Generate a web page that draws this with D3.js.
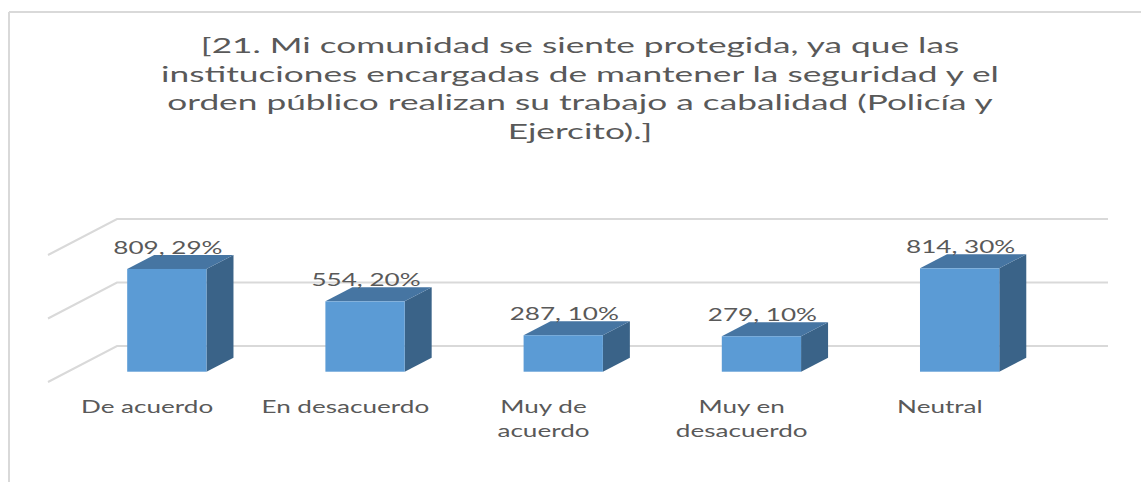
<!DOCTYPE html>
<html>
<head>
<meta charset="utf-8">
<script src="https://cdn.jsdelivr.net/npm/d3@7"></script>
<style>
  html, body { margin: 0; padding: 0; background: #fff; }
  svg { display: block; }
  text { font-family: Lato, "Open Sans", sans-serif; fill: #595959; }
</style>
</head>
<body>
<svg id="chart" width="1141" height="482"></svg>
<script>
// Survey answers and counts
const categories = ["De acuerdo", "En desacuerdo", "Muy de acuerdo", "Muy en desacuerdo", "Neutral"];
const categoryLines = [["De acuerdo"], ["En desacuerdo"], ["Muy de", "acuerdo"], ["Muy en", "desacuerdo"], ["Neutral"]];
const counts = [809, 554, 287, 279, 814];
const gridTicks = [0, 500, 1000];
const titleLines = [
  "[21. Mi comunidad se siente protegida, ya que las",
  "instituciones encargadas de mantener la seguridad y el",
  "orden público realizan su trabajo a cabalidad (Policía y",
  "Ejercito).]"
];

const total = d3.sum(counts);
const pct = counts.map(v => Math.round(v / total * 100));

const svg = d3.select("#chart");
const W = 1141, H = 482;
const SX = 1.45;        // horizontal stretch applied to axis and value text
const SX_TITLE = 1.64;  // horizontal stretch applied to the title

// chart frame (top and left edges)
svg.append("line").attr("x1", 9).attr("y1", 12).attr("x2", W).attr("y2", 12)
  .attr("stroke", "#d9d9d9").attr("stroke-width", 2);
svg.append("line").attr("x1", 9).attr("y1", 12).attr("x2", 9).attr("y2", H)
  .attr("stroke", "#d9d9d9").attr("stroke-width", 2);

// title
const title = svg.append("g");
titleLines.forEach((t, i) => {
  title.append("g").attr("transform", `translate(580,${53 + i * 28.7}) scale(${SX_TITLE},1)`)
    .append("text").attr("text-anchor", "middle").attr("font-size", 21.5).text(t);
});

// 3-D geometry: floor depth and bar position inside it
const floorDX = 69, floorDY = 36;     // full depth of the floor (front -> back wall)
const barFrontDepth = 0.286;          // fraction of depth where the bar front sits
const barDX = 27, barDY = 14;         // bar thickness in depth

// back-wall plane scales
const backLeft = 117, backRight = 1108;
const yWall = d3.scaleLinear().domain([0, 1000]).range([346, 219]);

// bar front plane
const frontOffX = floorDX * barFrontDepth, frontOffY = floorDY * barFrontDepth;
const x = d3.scaleBand().domain(categories)
  .range([backLeft - floorDX + frontOffX, backRight - floorDX + frontOffX])
  .paddingInner(0.6).paddingOuter(0.3);
const yBar = d3.scaleLinear().domain([0, 1000])
  .range([yWall(0) + floorDY - frontOffY, yWall(1000) + floorDY - frontOffY]);

// gridlines on back wall and side wall
const grid = svg.append("g").attr("stroke", "#d9d9d9").attr("stroke-width", 2).attr("fill", "none");
gridTicks.forEach(t => {
  const y = yWall(t);
  grid.append("path").attr("d", `M${backLeft - floorDX},${y + floorDY}L${backLeft},${y}L${backRight},${y}`);
});

// bars
const base = yBar(0);
const bars = svg.append("g").selectAll("g").data(categories).join("g");
bars.each(function (c, i) {
  const g = d3.select(this);
  const x0 = x(c), bw = x.bandwidth(), yt = yBar(counts[i]);
  // side face
  g.append("path")
    .attr("d", `M${x0 + bw},${yt}L${x0 + bw + barDX},${yt - barDY}L${x0 + bw + barDX},${base - barDY}L${x0 + bw},${base}Z`)
    .attr("fill", "#3a6388");
  // top face
  g.append("path")
    .attr("d", `M${x0},${yt}L${x0 + barDX},${yt - barDY}L${x0 + bw + barDX},${yt - barDY}L${x0 + bw},${yt}Z`)
    .attr("fill", "#4675a2");
  // front face
  g.append("rect").attr("x", x0).attr("y", yt).attr("width", bw).attr("height", base - yt)
    .attr("fill", "#5b9bd5");
});

// value labels
svg.append("g").selectAll("g").data(categories).join("g")
  .attr("transform", (c, i) => `translate(${x(c) + x.bandwidth() / 2 + 1},${yBar(counts[i]) - 15}) scale(${SX},1)`)
  .append("text").attr("text-anchor", "middle").attr("font-size", 18)
  .text((c, i) => `${counts[i]}, ${pct[i]}%`);

// category labels along the front edge of the floor
const catG = svg.append("g").selectAll("g").data(categories).join("g");
catG.each(function (c, i) {
  const cx = x(c) + x.bandwidth() / 2 - frontOffX;
  categoryLines[i].forEach((ln, j) => {
    d3.select(this).append("g").attr("transform", `translate(${cx},${413 + j * 24}) scale(${SX},1)`)
      .append("text").attr("text-anchor", "middle").attr("font-size", 18).text(ln);
  });
});
</script>
</body>
</html>
